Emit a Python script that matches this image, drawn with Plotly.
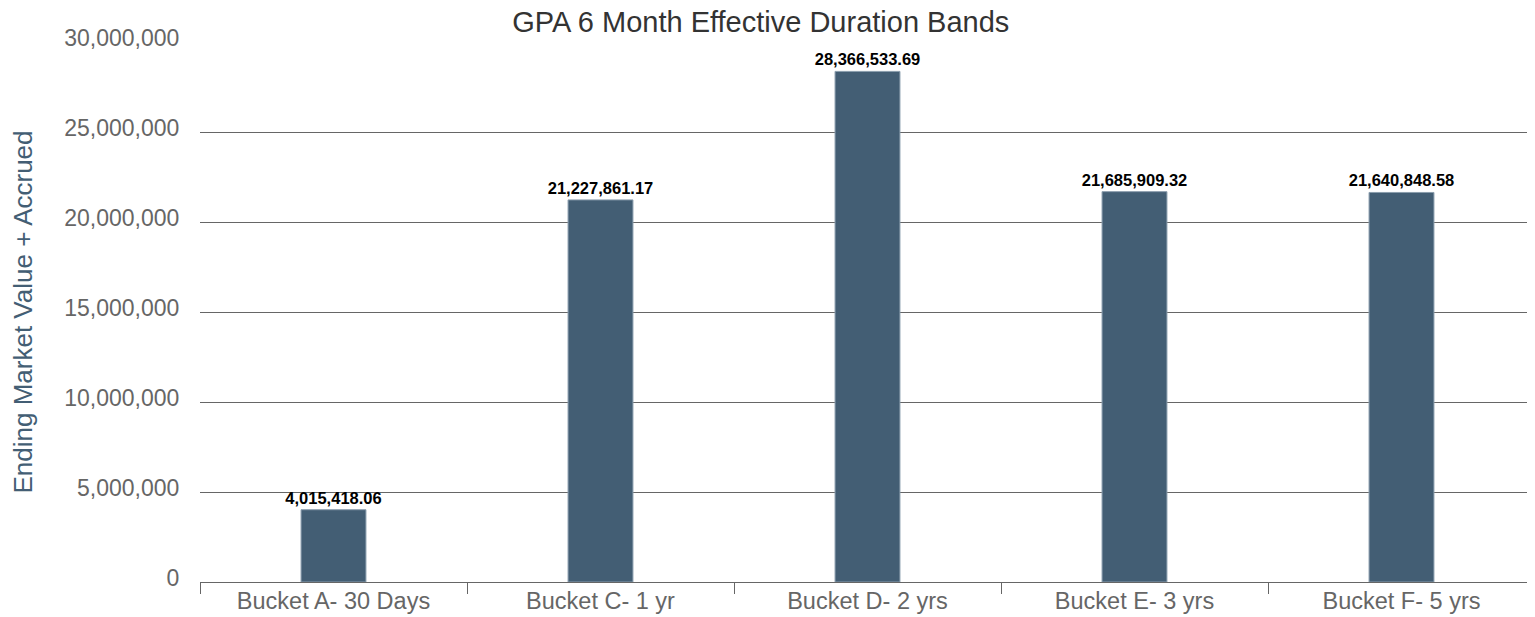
import plotly.graph_objects as go

categories = ["Bucket A- 30 Days", "Bucket C- 1 yr", "Bucket D- 2 yrs", "Bucket E- 3 yrs", "Bucket F- 5 yrs"]
values = [4015418.06, 21227861.17, 28366533.69, 21685909.32, 21640848.58]
labels = ["{:,.2f}".format(v) for v in values]
y_ticks = [0, 5000000, 10000000, 15000000, 20000000, 25000000, 30000000]
y_tick_text = ["{:,}".format(v) for v in y_ticks]

# The page body has an 8px default margin, so the figure is sized to fit the window.
fig = go.Figure(go.Bar(
    x=categories, y=values, text=labels, textposition="outside",
    constraintext="none",
    textfont=dict(family="Liberation Sans, Arial", size=16.5, color="#000000", weight="bold"),
    marker=dict(color="#435e74", line=dict(color="#8a9dad", width=1)),
    width=0.243, cliponaxis=False,
))

fig.update_layout(
    width=1527, height=609,
    paper_bgcolor="white", plot_bgcolor="white",
    margin=dict(l=192, r=0, t=34, b=35),
    font=dict(family="Liberation Sans, Arial", color="#666666"),
    title=dict(text="GPA 6 Month Effective Duration Bands", x=0.493, xanchor="center",
               y=0.978, yanchor="middle", font=dict(size=29, color="#333333")),
    showlegend=False,
    xaxis=dict(
        automargin=False,
        tickson="boundaries", ticks="outside", ticklen=11, tickcolor="#666666",
        showline=True, linecolor="#666666", linewidth=1.2,
        tickfont=dict(size=23.5, color="#666666"), showgrid=False,
        ticklabelstandoff=-2,
    ),
    yaxis=dict(
        automargin=False,
        range=[0, 30000000], tickvals=y_ticks, ticktext=y_tick_text,
        showgrid=True, gridcolor="#666666", gridwidth=1.2,
        tickfont=dict(size=23, color="#666666"),
        ticks="outside", ticklen=15, tickcolor="rgba(0,0,0,0)",
        ticklabelshift=-4,
        zeroline=False,
        title=dict(text="Ending Market Value + Accrued", font=dict(size=26, color="#435e74"), standoff=27),
    ),
)

fig.write_html("out.html")
